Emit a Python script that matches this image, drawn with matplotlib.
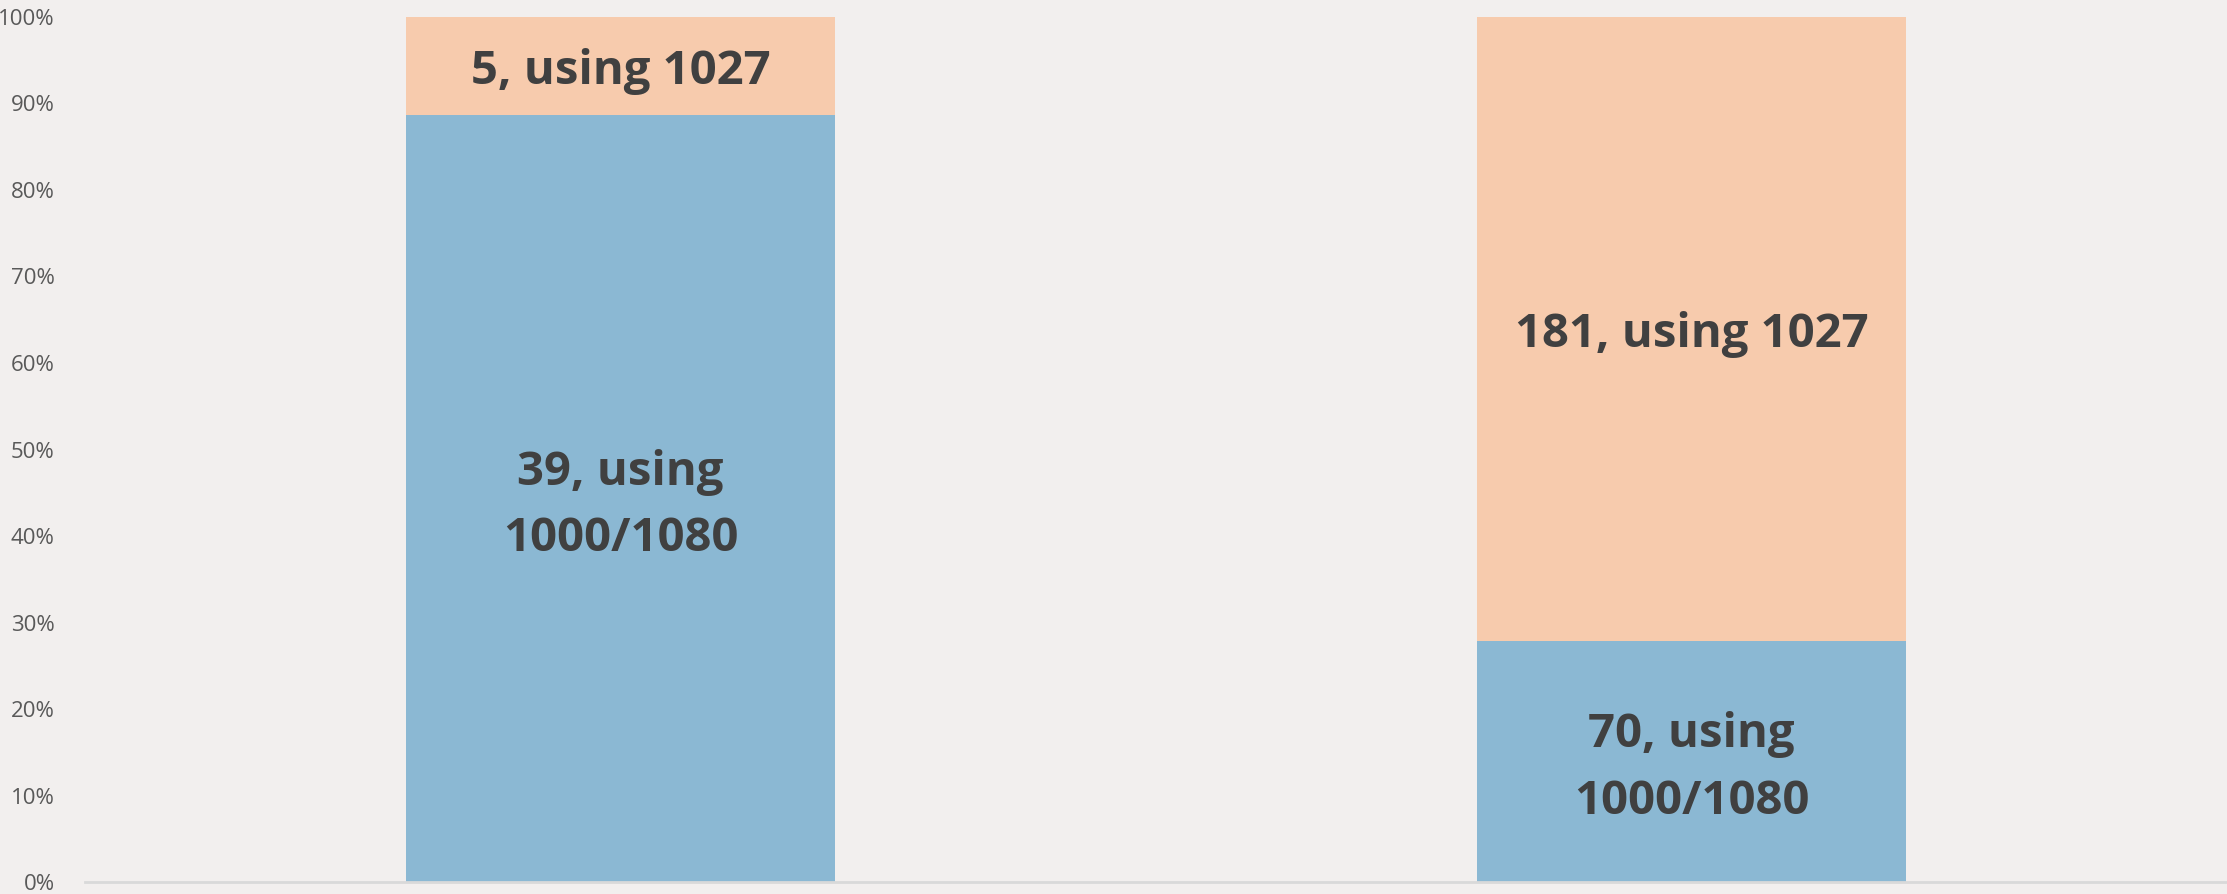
import numpy as np
import matplotlib.pyplot as plt
from matplotlib.ticker import PercentFormatter

categories = ["A", "B"]
count_1000 = [39, 70]
count_1027 = [5, 181]
labels_1000 = ["39, using\n1000/1080", "70, using\n1000/1080"]
labels_1027 = ["5, using 1027", "181, using 1027"]

bg = "#F2EFEE"
blue = "#8BB8D3"
orange = "#F7CBAD"

total = np.array(count_1000) + np.array(count_1027)
share_1000 = np.array(count_1000) / total * 100
share_1027 = np.array(count_1027) / total * 100

fig = plt.figure(figsize=(22.27, 8.94), dpi=100, facecolor=bg)
ax = fig.add_axes([0.0382, 0.0134, 0.9618, 0.9676], facecolor=bg)

x = np.arange(len(categories))
ax.bar(x, share_1000, width=0.4, color=blue)
ax.bar(x, share_1027, width=0.4, bottom=share_1000, color=orange)

for i in range(len(categories)):
    ax.annotate(labels_1000[i], (x[i], share_1000[i] / 2), xytext=(0, -5),
                textcoords="offset points", ha="center", va="center",
                fontsize=34, fontweight="bold", color="#404040",
                family="Open Sans", linespacing=1.55)
    ax.text(x[i], share_1000[i] + share_1027[i] / 2, labels_1027[i], ha="center",
            va="center_baseline", fontsize=34, fontweight="bold", color="#404040",
            family="Open Sans")

ax.set_xlim(-0.5, 1.5)
ax.set_ylim(0, 100)
ax.set_yticks(np.arange(0, 101, 10))
ax.yaxis.set_major_formatter(PercentFormatter(decimals=0))
ax.tick_params(axis="y", length=0, pad=22, labelsize=16, labelcolor="#595959")
ax.tick_params(axis="x", length=0, labelbottom=False)
for lab in ax.get_yticklabels():
    lab.set_family("Open Sans")
for s in ["top", "right", "left"]:
    ax.spines[s].set_visible(False)
ax.spines["bottom"].set_color("#D9D9D9")
ax.spines["bottom"].set_linewidth(2)

fig.savefig("out.png", dpi=100, facecolor=bg)
